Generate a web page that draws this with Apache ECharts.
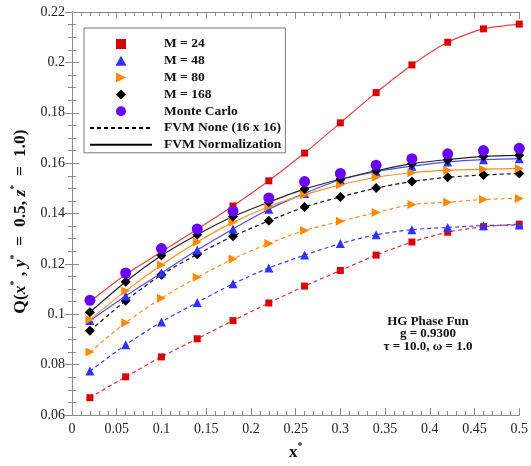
<!DOCTYPE html>
<html>
<head>
<meta charset="utf-8">
<script src="https://cdn.jsdelivr.net/npm/echarts@6/dist/echarts.min.js"></script>
<style>
html,body{margin:0;padding:0;background:#fff;}
#chart{width:531px;height:466px;}
</style>
</head>
<body>
<div id="chart"></div>
<script>
// ---- data ----
var xValues = [0.02, 0.06, 0.1, 0.14, 0.18, 0.22, 0.26, 0.3, 0.34, 0.38, 0.42, 0.46, 0.5];

var m24Norm  = [0.1050, 0.1158, 0.1248, 0.1338, 0.1430, 0.1530, 0.1640, 0.1760, 0.1880, 0.1990, 0.2080, 0.2133, 0.2152];
var m48Norm  = [0.0975, 0.1073, 0.1164, 0.1255, 0.1339, 0.1417, 0.1480, 0.1534, 0.1566, 0.1588, 0.1605, 0.1614, 0.1618];
var m80Norm  = [0.0979, 0.1093, 0.1196, 0.1287, 0.1365, 0.1427, 0.1475, 0.1514, 0.1544, 0.1562, 0.1572, 0.1576, 0.1579];
var m168Norm = [0.1008, 0.1129, 0.1233, 0.1316, 0.1388, 0.1445, 0.1497, 0.1536, 0.1570, 0.1598, 0.1614, 0.1627, 0.1631];

var m24None  = [0.0669, 0.0752, 0.0831, 0.0903, 0.0975, 0.1045, 0.1112, 0.1174, 0.1235, 0.1287, 0.1326, 0.1348, 0.1358];
var m48None  = [0.0775, 0.0879, 0.0970, 0.1047, 0.1121, 0.1184, 0.1235, 0.1281, 0.1316, 0.1336, 0.1345, 0.1352, 0.1355];
var m80None  = [0.0850, 0.0967, 0.1064, 0.1147, 0.1220, 0.1281, 0.1333, 0.1369, 0.1404, 0.1436, 0.1445, 0.1456, 0.1460];
var m168None = [0.0935, 0.1054, 0.1157, 0.1238, 0.1310, 0.1371, 0.1426, 0.1466, 0.1501, 0.1527, 0.1544, 0.1553, 0.1559];

var monteCarlo = [0.1056, 0.1164, 0.1261, 0.1339, 0.1410, 0.1462, 0.1527, 0.1559, 0.1592, 0.1618, 0.1637, 0.1650, 0.1659];

var seriesNames = ['M = 24', 'M = 48', 'M = 80', 'M = 168', 'Monte Carlo', 'FVM None (16 x 16)', 'FVM Normalization'];
var noteLines = ['HG Phase Fun', 'g = 0.9300', '\u03c4 = 10.0, \u03c9 = 1.0'];

// ---- helpers ----
function pairs(ys) { return xValues.map(function (x, i) { return [x, ys[i]]; }); }

var FONT = '"Liberation Serif", "Times New Roman", serif';
var AX = '#8a8a8a';
var RED = '#dd0000', BLUE = '#3030ff', ORANGE = '#ff8a00', BLACK = '#000000', PURPLE = '#6a00ff';
var rightTri = 'path://M0,0L10,5L0,10Z';
var icoSquare = 'path://M0,0H10V10H0Z';
var icoTri = 'path://M5,0L10,9L0,9Z';
var icoDiamond = 'path://M5,0L10,5L5,10L0,5Z';
var icoCircle = 'path://M0,5A5,5,0,1,1,10,5A5,5,0,1,1,0,5Z';

function mk(name, ys, color, symbol, size, dashed, lineColor) {
  return {
    name: name, type: 'line', data: pairs(ys), smooth: 0.25,
    symbol: symbol, symbolSize: size,
    itemStyle: { color: color, opacity: 1 },
    lineStyle: { color: lineColor || color, width: 1.2, type: dashed ? [4, 3] : 'solid' },
    emphasis: { disabled: true }, animation: false, z: 2
  };
}

var chart = echarts.init(document.getElementById('chart'), null, { renderer: 'canvas' });

var supStyle = { fontFamily: FONT, fontWeight: 'bold', fontSize: 10, color: '#111', verticalAlign: 'top', lineHeight: 20 };

var option = {
  animation: false,
  backgroundColor: '#fff',
  textStyle: { fontFamily: FONT },
  grid: { left: 72, right: 10, top: 12, bottom: 43, containLabel: false },
  legend: {
    orient: 'vertical', left: 84, top: 28,
    padding: [9, 4, 1, 5],
    backgroundColor: '#fff', borderColor: '#777', borderWidth: 1,
    itemWidth: 62, itemHeight: 10, itemGap: 2.8,
    symbolKeepAspect: true,
    selectedMode: false,
    textStyle: { fontFamily: FONT, fontWeight: 'bold', fontSize: 13.5, color: '#111', lineHeight: 14, padding: [0, 0, 0, 7] },
    data: [
      { name: seriesNames[0], icon: icoSquare },
      { name: seriesNames[1], icon: icoTri },
      { name: seriesNames[2], icon: rightTri },
      { name: seriesNames[3], icon: icoDiamond },
      { name: seriesNames[4], icon: icoCircle },
      { name: seriesNames[5] },
      { name: seriesNames[6] }
    ]
  },
  xAxis: [{
    type: 'value', min: 0, max: 0.5, interval: 0.05,
    name: '{b|x}{s|*}', nameLocation: 'middle', nameGap: 22,
    nameTextStyle: { rich: {
      b: { fontFamily: FONT, fontWeight: 'bold', fontSize: 17, color: '#111', lineHeight: 20, verticalAlign: 'bottom' },
      s: supStyle
    } },
    axisLine: { show: true, lineStyle: { color: AX, width: 1 } },
    axisTick: { show: true, inside: true, length: 7, lineStyle: { color: AX } },
    minorTick: { show: true, splitNumber: 5, length: 4, lineStyle: { color: AX } },
    splitLine: { show: false },
    axisLabel: { fontFamily: FONT, fontSize: 14, color: '#222', margin: 7 }
  }, {
    type: 'value', min: 0, max: 0.5, interval: 0.05, position: 'top',
    axisLine: { show: true, lineStyle: { color: AX, width: 1 } },
    axisTick: { show: true, inside: true, length: 7, lineStyle: { color: AX } },
    minorTick: { show: true, splitNumber: 5, length: 4, lineStyle: { color: AX } },
    splitLine: { show: false }, axisLabel: { show: false }
  }],
  yAxis: [{
    type: 'value', min: 0.06, max: 0.22, interval: 0.02,
    name: '{b|Q(}{i|x}{s|*}{b| , }{i|y}{s|*}{b|  =  0.5, }{i|z}{s|*}{b|  =  1.0)}',
    nameLocation: 'middle', nameGap: 40, nameRotate: 90,
    nameTextStyle: { padding: [0, 16, 0, 0], rich: {
      b: { fontFamily: FONT, fontWeight: 'bold', fontSize: 17.5, color: '#111', lineHeight: 20, verticalAlign: 'bottom' },
      i: { fontFamily: FONT, fontWeight: 'bold', fontStyle: 'italic', fontSize: 17.5, color: '#111', lineHeight: 20, verticalAlign: 'bottom' },
      s: supStyle
    } },
    axisLine: { show: true, lineStyle: { color: AX, width: 1 } },
    axisTick: { show: true, inside: true, length: 7, lineStyle: { color: AX } },
    minorTick: { show: true, splitNumber: 4, length: 4, lineStyle: { color: AX } },
    splitLine: { show: false },
    axisLabel: { fontFamily: FONT, fontSize: 14, color: '#222', margin: 7 }
  }, {
    type: 'value', min: 0.06, max: 0.22, interval: 0.02, position: 'right',
    axisLine: { show: true, lineStyle: { color: AX, width: 1 } },
    axisTick: { show: true, inside: true, length: 7, lineStyle: { color: AX } },
    minorTick: { show: true, splitNumber: 4, length: 4, lineStyle: { color: AX } },
    splitLine: { show: false }, axisLabel: { show: false }
  }],
  graphic: [{
    type: 'text', x: 428, y: 315,
    style: {
      text: noteLines.join('\n'), align: 'center', verticalAlign: 'top',
      font: 'bold 13px ' + FONT, fill: '#111', lineHeight: 12.5
    }
  }],
  series: [
    mk(seriesNames[0], m24None, RED, 'rect', 7, true, '#e03030'),
    mk(seriesNames[1], m48None, BLUE, 'triangle', 9, true, '#3a3aff'),
    mk(seriesNames[2], m80None, ORANGE, rightTri, 9, true, '#ff9020'),
    mk(seriesNames[3], m168None, BLACK, 'diamond', 10, true, '#111'),
    mk(seriesNames[0], m24Norm, RED, 'rect', 7, false, '#e84040'),
    mk(seriesNames[1], m48Norm, BLUE, 'triangle', 9, false, '#4a4aff'),
    mk(seriesNames[2], m80Norm, ORANGE, rightTri, 9, false, '#ff9020'),
    mk(seriesNames[3], m168Norm, BLACK, 'diamond', 10, false, '#222'),
    {
      name: seriesNames[4], type: 'scatter', data: pairs(monteCarlo),
      symbol: 'circle', symbolSize: 11, itemStyle: { color: PURPLE, opacity: 1 },
      emphasis: { disabled: true }, z: 3
    },
    {
      name: seriesNames[5], type: 'line', data: [], symbol: 'none',
      itemStyle: { color: 'rgba(0,0,0,0)' },
      lineStyle: { color: '#000', width: 1.5, type: [4, 3] }
    },
    {
      name: seriesNames[6], type: 'line', data: [], symbol: 'none',
      itemStyle: { color: 'rgba(0,0,0,0)' },
      lineStyle: { color: '#000', width: 1.5, type: 'solid' }
    }
  ]
};

chart.setOption(option);
</script>
</body>
</html>
